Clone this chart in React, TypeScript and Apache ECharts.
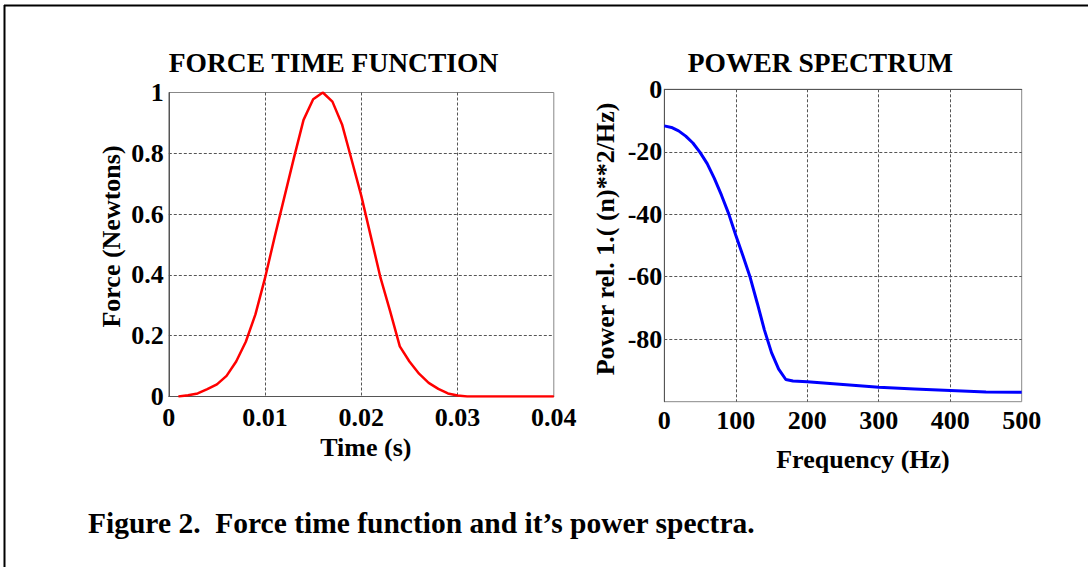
import React, { useEffect, useRef } from "react";
import * as echarts from "echarts";

// Force time function (left panel)
const forceTime = [
  0.001, 0.002, 0.003, 0.004, 0.005, 0.006, 0.007, 0.008, 0.009, 0.01,
  0.011, 0.012, 0.013, 0.014, 0.015, 0.016, 0.017, 0.018, 0.019, 0.02,
  0.021, 0.022, 0.023, 0.024, 0.025, 0.026, 0.027, 0.028, 0.029, 0.03,
  0.031, 0.04,
];
const forceValues = [
  0, 0.004, 0.01, 0.024, 0.04, 0.068, 0.115, 0.18, 0.27, 0.39,
  0.525, 0.655, 0.785, 0.91, 0.978, 1.0, 0.97, 0.895, 0.778, 0.66,
  0.525, 0.39, 0.28, 0.165, 0.115, 0.075, 0.045, 0.025, 0.01, 0.003,
  0, 0,
];

// Power spectrum (right panel)
const freqHz = [
  0, 10, 20, 30, 40, 50, 60, 70, 80, 90, 100, 110, 120, 130, 140, 150,
  160, 170, 180, 200, 250, 300, 350, 400, 450, 500,
];
const powerDb = [
  -11.7, -12.2, -13.3, -15.0, -17.2, -20.2, -23.8, -28.5, -33.9, -39.8,
  -46.7, -53.3, -60.1, -68.4, -77.0, -84.3, -89.6, -92.9, -93.4, -93.6,
  -94.5, -95.4, -95.9, -96.4, -96.9, -97.0,
];

const leftTitle = "FORCE TIME FUNCTION";
const rightTitle = "POWER SPECTRUM";
const caption = "Figure 2.  Force time function and it\u2019s power spectra.";
const leftXName = "Time (s)";
const leftYName = "Force (Newtons)";
const rightXName = "Frequency (Hz)";
const rightYName = "Power rel. 1.( (n)**2/Hz)";

const FONT = "'Liberation Serif', 'Times New Roman', serif";

const fmt = (v: number) => String(+v.toFixed(3));

export default function App() {
  const ref = useRef<HTMLDivElement>(null);

  useEffect(() => {
    if (!ref.current) return;
    const chart = echarts.init(ref.current, null, { renderer: "svg" });

    const tickText = {
      fontFamily: FONT,
      fontWeight: "bold" as const,
      fontSize: 26,
      color: "#000",
    };
    const splitLine = {
      show: true,
      showMinLine: false,
      showMaxLine: false,
      lineStyle: { color: "#555", width: 1, type: [3, 2] as number[] },
    };
    const axisLine = { show: true, lineStyle: { color: "#555", width: 1 } };

    const option: any = {
      animation: false,
      backgroundColor: "#fff",
      grid: [
        {
          left: 168.8,
          top: 92.5,
          width: 385,
          height: 304,
          show: true,
          borderColor: "#888",
          borderWidth: 1,
          backgroundColor: "transparent",
        },
        {
          left: 664.3,
          top: 89.3,
          width: 357.4,
          height: 312.4,
          show: true,
          borderColor: "#888",
          borderWidth: 1,
          backgroundColor: "transparent",
        },
      ],
      xAxis: [
        {
          type: "value",
          gridIndex: 0,
          min: 0,
          max: 0.04,
          interval: 0.01,
          axisLine,
          axisTick: { show: false },
          splitLine,
          axisLabel: { ...tickText, margin: 11, lineHeight: 20, formatter: fmt },
          name: leftXName,
          nameLocation: "middle",
          nameGap: 41,
          nameMoveOverlap: false,
          nameTextStyle: { ...tickText, lineHeight: 20, padding: [0, 0, 0, 9] },
        },
        {
          type: "value",
          gridIndex: 1,
          min: 0,
          max: 500,
          interval: 100,
          axisLine,
          axisTick: { show: false },
          splitLine,
          axisLabel: { ...tickText, margin: 6, formatter: fmt },
          name: rightXName,
          nameLocation: "middle",
          nameGap: 45,
          nameMoveOverlap: false,
          nameTextStyle: { ...tickText, padding: [0, 0, 0, 40] },
        },
      ],
      yAxis: [
        {
          type: "value",
          gridIndex: 0,
          min: 0,
          max: 1,
          interval: 0.2,
          axisLine,
          axisTick: { show: false },
          splitLine,
          axisLabel: { ...tickText, margin: 5, padding: [8, 0, 0, 0], formatter: fmt },
          name: leftYName,
          nameLocation: "middle",
          nameGap: 44,
          nameMoveOverlap: false,
          nameTextStyle: { ...tickText, padding: [0, 0, 0, 16] },
        },
        {
          type: "value",
          gridIndex: 1,
          min: -100,
          max: 0,
          interval: 20,
          axisLine,
          axisTick: { show: false },
          splitLine,
          axisLabel: {
            ...tickText,
            margin: 2,
            padding: [6, 0, 0, 0],
            formatter: (v: number) => (v === -100 ? "" : fmt(v)),
          },
          name: rightYName,
          nameLocation: "middle",
          nameGap: 46,
          nameMoveOverlap: false,
          nameTextStyle: { ...tickText, padding: [0, 0, 0, 13] },
        },
      ],
      series: [
        {
          type: "line",
          xAxisIndex: 0,
          yAxisIndex: 0,
          data: forceTime.map((t, i) => [t, forceValues[i]]),
          showSymbol: false,
          symbol: "none",
          lineStyle: { color: "#ff0000", width: 2.5 },
          z: 5,
        },
        {
          type: "line",
          xAxisIndex: 1,
          yAxisIndex: 1,
          data: freqHz.map((f, i) => [f, powerDb[i]]),
          showSymbol: false,
          symbol: "none",
          lineStyle: { color: "#0000ff", width: 3 },
          z: 5,
        },
      ],
      graphic: [
        {
          type: "line",
          shape: { x1: 4, y1: 5.5, x2: 1088, y2: 5.5 },
          style: { stroke: "#000", lineWidth: 2 },
        },
        {
          type: "line",
          shape: { x1: 4.5, y1: 5, x2: 4.5, y2: 567 },
          style: { stroke: "#000", lineWidth: 2 },
        },
        {
          type: "text",
          x: 333.5,
          y: 62,
          style: {
            text: leftTitle,
            font: `bold 27.5px ${FONT}`,
            fill: "#000",
            textAlign: "center",
            textVerticalAlign: "middle",
          },
        },
        {
          type: "text",
          x: 820.3,
          y: 62,
          style: {
            text: rightTitle,
            font: `bold 27.5px ${FONT}`,
            fill: "#000",
            textAlign: "center",
            textVerticalAlign: "middle",
          },
        },
        {
          type: "text",
          x: 88,
          y: 522.5,
          style: {
            text: caption,
            font: `bold 29.5px ${FONT}`,
            fill: "#000",
            textAlign: "left",
            textVerticalAlign: "middle",
          },
        },
      ],
    };

    chart.setOption(option);
    return () => chart.dispose();
  }, []);

  return (
    <div
      ref={ref}
      style={{ position: "fixed", left: 0, top: 0, width: 1088, height: 567 }}
    />
  );
}
